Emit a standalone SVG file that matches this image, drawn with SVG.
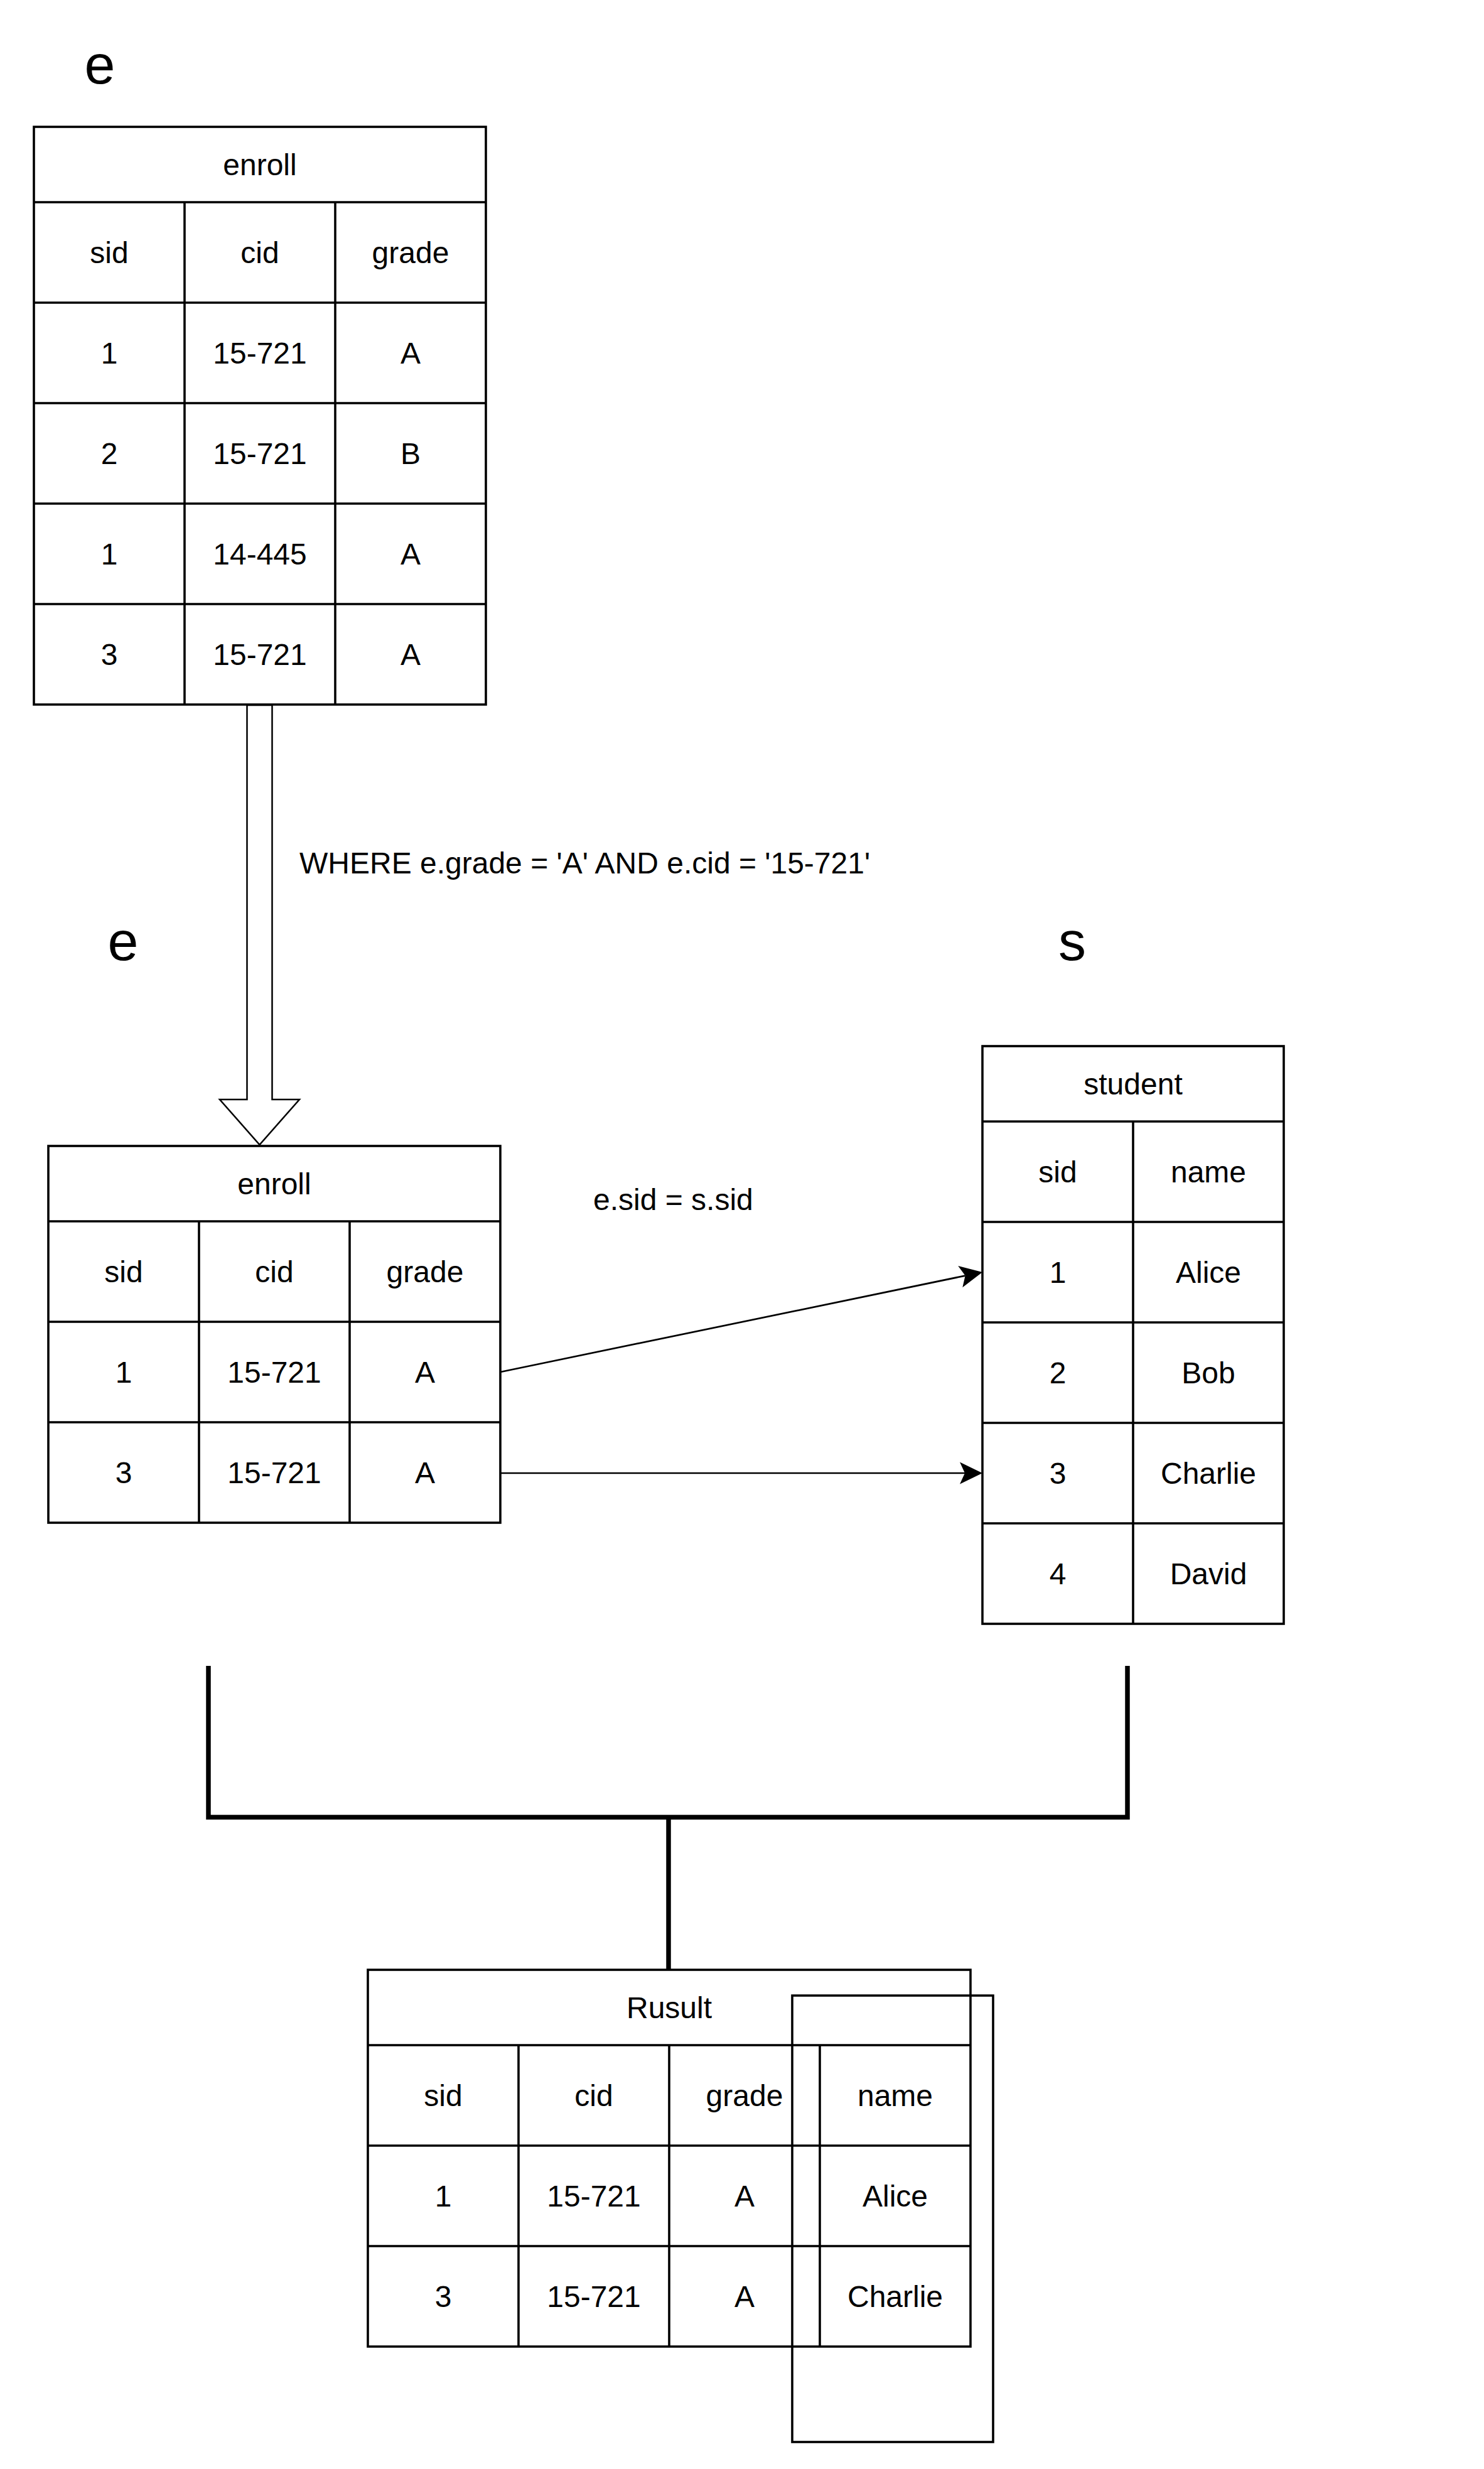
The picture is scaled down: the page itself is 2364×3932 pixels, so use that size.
<svg xmlns="http://www.w3.org/2000/svg" width="2364" height="3932" viewBox="0 0 2364 3932">
<style>
  .t { font-family: "Liberation Sans", Arial, sans-serif; font-size: 48px; fill: #000; text-anchor: middle; }
  .lbl { font-family: "Liberation Sans", Arial, sans-serif; font-size: 88px; fill: #000; text-anchor: middle; }
  .free { font-family: "Liberation Sans", Arial, sans-serif; font-size: 48px; fill: #000; }
  .grid { fill: none; stroke: #000; stroke-width: 3.6; }
  .conn { fill: none; stroke: #000; stroke-width: 2.7; }
  .bracket { fill: none; stroke: #000; stroke-width: 7.5; stroke-linejoin: miter; stroke-linecap: butt; }
</style>
<defs>
  <marker id="arr" markerUnits="userSpaceOnUse" viewBox="-10 -20 40 40" markerWidth="40" markerHeight="40" refX="0" refY="0" orient="auto">
    <path d="M28,0 L-8,-17.5 L0,0 L-8,17.5 Z" fill="#000" stroke="none"/>
  </marker>
</defs>
<rect x="0" y="0" width="2364" height="3932" fill="#fff"/>

<g id="label-e1"><text class="lbl" x="159" y="133">e</text></g>
<g id="label-e2"><text class="lbl" x="196" y="1529">e</text></g>
<g id="label-s"><text class="lbl" x="1708" y="1529">s</text></g>

<g id="enroll-1">
  <rect class="grid" x="54" y="202" width="720" height="920"/>
  <path class="grid" d="M54,322 H774 M54,482 H774 M54,642 H774 M54,802 H774 M54,962 H774 M294,322 V1122 M534,322 V1122"/>
  <text class="t" x="414" y="279">enroll</text>
  <text class="t" x="174" y="419">sid</text><text class="t" x="414" y="419">cid</text><text class="t" x="654" y="419">grade</text>
  <text class="t" x="174" y="579">1</text><text class="t" x="414" y="579">15-721</text><text class="t" x="654" y="579">A</text>
  <text class="t" x="174" y="739">2</text><text class="t" x="414" y="739">15-721</text><text class="t" x="654" y="739">B</text>
  <text class="t" x="174" y="899">1</text><text class="t" x="414" y="899">14-445</text><text class="t" x="654" y="899">A</text>
  <text class="t" x="174" y="1059">3</text><text class="t" x="414" y="1059">15-721</text><text class="t" x="654" y="1059">A</text>
</g>

<g id="enroll-2">
  <rect class="grid" x="77" y="1825" width="720" height="600"/>
  <path class="grid" d="M77,1945 H797 M77,2105 H797 M77,2265 H797 M317,1945 V2425 M557,1945 V2425"/>
  <text class="t" x="437" y="1902">enroll</text>
  <text class="t" x="197" y="2042">sid</text><text class="t" x="437" y="2042">cid</text><text class="t" x="677" y="2042">grade</text>
  <text class="t" x="197" y="2202">1</text><text class="t" x="437" y="2202">15-721</text><text class="t" x="677" y="2202">A</text>
  <text class="t" x="197" y="2362">3</text><text class="t" x="437" y="2362">15-721</text><text class="t" x="677" y="2362">A</text>
</g>

<g id="student">
  <rect class="grid" x="1565" y="1666" width="480" height="920"/>
  <path class="grid" d="M1565,1786 H2045 M1565,1946 H2045 M1565,2106 H2045 M1565,2266 H2045 M1565,2426 H2045 M1805,1786 V2586"/>
  <text class="t" x="1805" y="1743">student</text>
  <text class="t" x="1685" y="1883">sid</text><text class="t" x="1925" y="1883">name</text>
  <text class="t" x="1685" y="2043">1</text><text class="t" x="1925" y="2043">Alice</text>
  <text class="t" x="1685" y="2203">2</text><text class="t" x="1925" y="2203">Bob</text>
  <text class="t" x="1685" y="2363">3</text><text class="t" x="1925" y="2363">Charlie</text>
  <text class="t" x="1685" y="2523">4</text><text class="t" x="1925" y="2523">David</text>
</g>

<g id="result">
  <rect class="grid" x="586" y="3137" width="960" height="600"/>
  <path class="grid" d="M586,3257 H1546 M586,3417 H1546 M586,3577 H1546 M826,3257 V3737 M1066,3257 V3737 M1306,3257 V3737"/>
  <text class="t" x="1066" y="3214">Rusult</text>
  <text class="t" x="706" y="3354">sid</text><text class="t" x="946" y="3354">cid</text><text class="t" x="1186" y="3354">grade</text><text class="t" x="1426" y="3354">name</text>
  <text class="t" x="706" y="3514">1</text><text class="t" x="946" y="3514">15-721</text><text class="t" x="1186" y="3514">A</text><text class="t" x="1426" y="3514">Alice</text>
  <text class="t" x="706" y="3674">3</text><text class="t" x="946" y="3674">15-721</text><text class="t" x="1186" y="3674">A</text><text class="t" x="1426" y="3674">Charlie</text>
</g>

<g id="overlay-rect">
  <rect class="grid" x="1262" y="3178" width="320" height="711"/>
</g>

<g id="connectors">
  <polygon points="393.5,1123 433.5,1123 433.5,1751 477,1751 413.5,1823 350,1751 393.5,1751" fill="#fff" stroke="#000" stroke-width="2.5" stroke-linejoin="miter"/>
  <text class="free" x="477" y="1391">WHERE e.grade = 'A' AND e.cid = '15-721'</text>
  <line class="conn" x1="797" y1="2185" x2="1537.6" y2="2031.6" marker-end="url(#arr)"/>
  <line class="conn" x1="797" y1="2346" x2="1537" y2="2346" marker-end="url(#arr)"/>
  <text class="free" x="945" y="1927">e.sid = s.sid</text>
  <path class="bracket" d="M332,2653 V2894 H1796 V2653"/>
  <path class="bracket" d="M1065,2894 V3137"/>
</g>
</svg>
